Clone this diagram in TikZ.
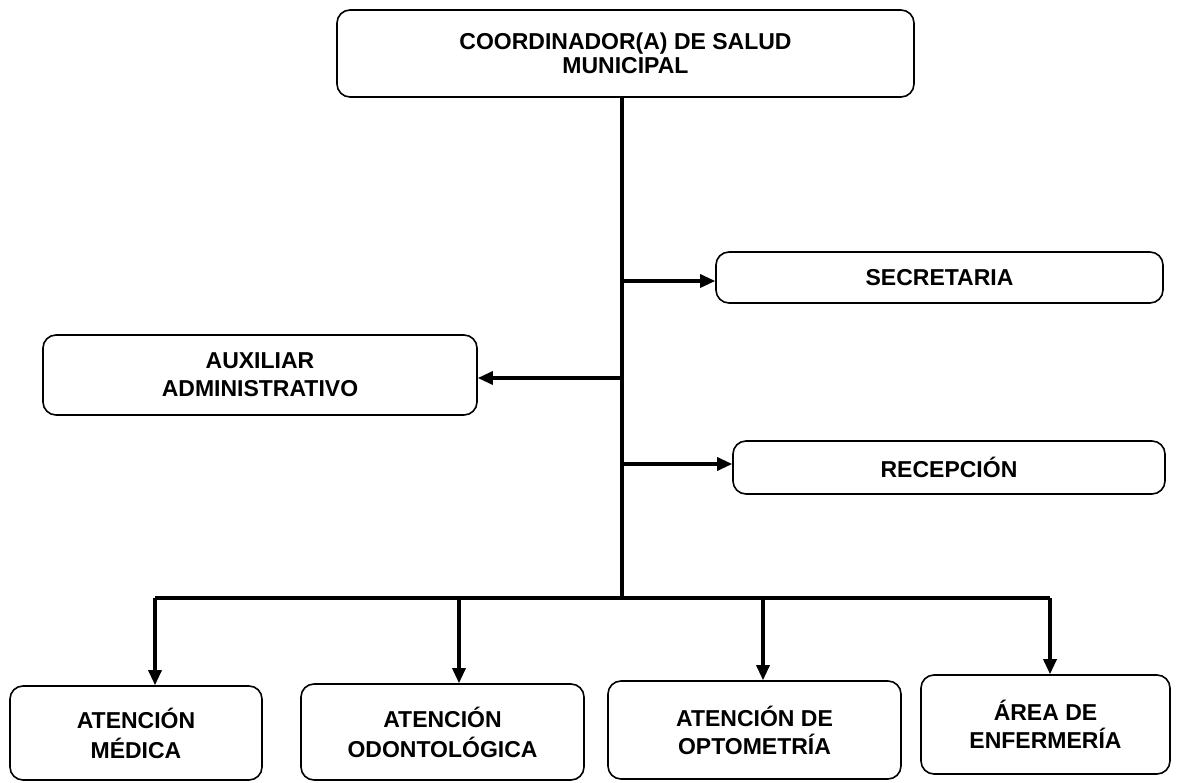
\documentclass[tikz,border=0pt]{standalone}
\usepackage{fontspec}
\setmainfont{Liberation Sans}
\usetikzlibrary{arrows.meta}

\begin{document}
\begin{tikzpicture}[x=1pt,y=-1pt,
	caja/.style={draw, line width=1.6pt, rounded corners=13pt, align=center,
		inner sep=0pt, font=\bfseries\fontsize{23}{28}\selectfont},
	linea/.style={line width=4pt},
	flecha/.style={line width=3.2pt, -{Triangle[length=15pt,width=13pt]}}]
		{
			\useasboundingbox (0,0) rectangle (1183,783);
			% cajas: x izq / x der / y sup / y inf / nombre / texto
			\foreach \xa/\xb/\ya/\yb/\nom/\txt in {
				337/914/10/97/coord/{COORDINADOR(A) DE SALUD\\[-4pt]MUNICIPAL},
				716/1163/252/303/secr/{SECRETARIA},
				43/477/335/415/aux/{AUXILIAR\\ADMINISTRATIVO},
				733/1165/441/494/recep/{RECEPCIÓN},
				10/262/686/780/med/{ATENCIÓN\\[2pt]MÉDICA},
				301/584/684/780/odon/{ATENCIÓN\\[2pt]ODONTOLÓGICA},
				608/901/681/779/opto/{ATENCIÓN DE\\OPTOMETRÍA},
				921/1170/675/774/enf/{ÁREA DE\\ENFERMERÍA}}
			{
				\pgfmathsetmacro{\cx}{(\xa+\xb)/2}
				\pgfmathsetmacro{\cy}{(\ya+\yb)/2}
				\pgfmathsetmacro{\an}{\xb-\xa}
				\pgfmathsetmacro{\al}{\yb-\ya}
				\node[caja, minimum width=\an pt, minimum height=\al pt] (\nom) at (\cx,\cy) {\txt};
			}

			\coordinate (tronco) at (622,598);
			\draw[linea] (coord.south -| tronco) -- (tronco);
			\draw[flecha] (tronco |- 0,281) -- (secr.west |- 0,281);
			\draw[flecha] (tronco |- 0,378) -- (aux.east |- 0,378);
			\draw[flecha] (tronco |- 0,464) -- (recep.west |- 0,464);

			% barra inferior
			\coordinate (b1) at (155,598);
			\coordinate (b2) at (459,598);
			\coordinate (b3) at (763,598);
			\coordinate (b4) at (1050,598);
			\draw[linea] (b1) -- (b4);
			\draw[flecha] (b1) -- (b1 |- med.north);
			\draw[flecha] (b2) -- (b2 |- odon.north);
			\draw[flecha] (b3) -- (b3 |- opto.north);
			\draw[flecha] (b4) -- (b4 |- enf.north);
		}
	\end{tikzpicture}
\end{document}
